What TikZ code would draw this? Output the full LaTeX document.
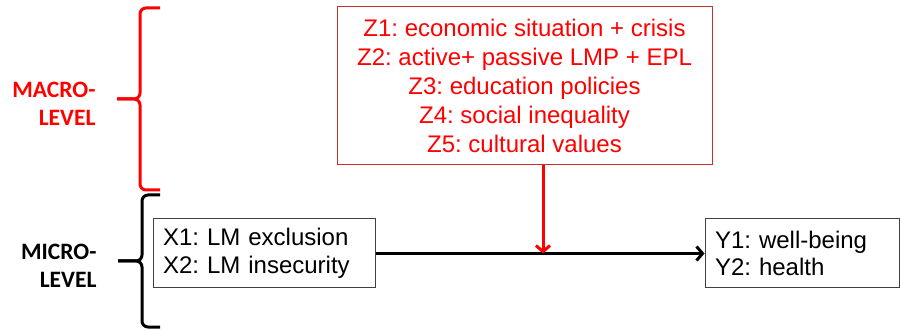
\documentclass[tikz,border=0pt]{standalone}
\usepackage{fontspec}
\setmainfont{Liberation Sans}
\newfontfamily\lvlfont{Carlito}
\usetikzlibrary{arrows.meta,positioning,calc}
\definecolor{zred}{RGB}{255,0,0}
\definecolor{zline}{RGB}{205,45,45}
\frenchspacing

\tikzset{
  varbox/.style={draw=black!75, line width=1pt, minimum height=69pt, inner xsep=10pt, align=left, font=\fontsize{24}{27.5}\selectfont},
  lvl/.style={anchor=east, align=right, font=\lvlfont\bfseries\fontsize{23.5}{28}\selectfont},
  bracket/.style={line width=3pt, rounded corners=6pt},
  flow/.style={line width=3pt, -{Straight Barb[length=6pt,width=14pt,line width=3pt]}}
}

\begin{document}
\begin{tikzpicture}[x=1pt, y=-1pt]
\useasboundingbox (0,0) rectangle (900,331);

% Z变量框
\node[draw=zline, line width=1pt, minimum width=375pt, minimum height=158pt, align=center, text=zred, font=\fontsize{24}{29}\selectfont] (zbox) at (524.5,86) {
Z1: economic situation + crisis \\
Z2: active+ passive LMP + EPL \\
Z3: education policies \\
Z4: social inequality \\
Z5: cultural values
};

% X变量框
\node[varbox, text width=202pt] (xbox) at (264,253.5) {
X1: LM exclusion \\
X2: LM insecurity
};

% Y变量框
\node[varbox, text width=174pt, right=329pt of xbox] (ybox) {
Y1: well-being \\
Y2: health
};

% 层级标签
\node[lvl, text=zred] (macro) at (99,104) {MACRO-\\LEVEL};
\node[lvl] (micro) at (100,266) {MICRO-\\LEVEL};

% 括号
\draw[bracket, zred] (160,8) -- (140,8) -- (140,99) -- (117,99);
\draw[bracket, zred] (117,99) -- (140,99) -- (140,190) -- (160,190);
\draw[bracket] (160,195) -- (142,195) -- (142,261) -- (118,261);
\draw[bracket] (118,261) -- (142,261) -- (142,327) -- (160,327);

% 关系
\coordinate (mid) at (543,253.5);
\draw[flow] (xbox) -- (ybox);
\draw[flow, zred] (zbox.south -| mid) -- (mid);
\end{tikzpicture}
\end{document}
